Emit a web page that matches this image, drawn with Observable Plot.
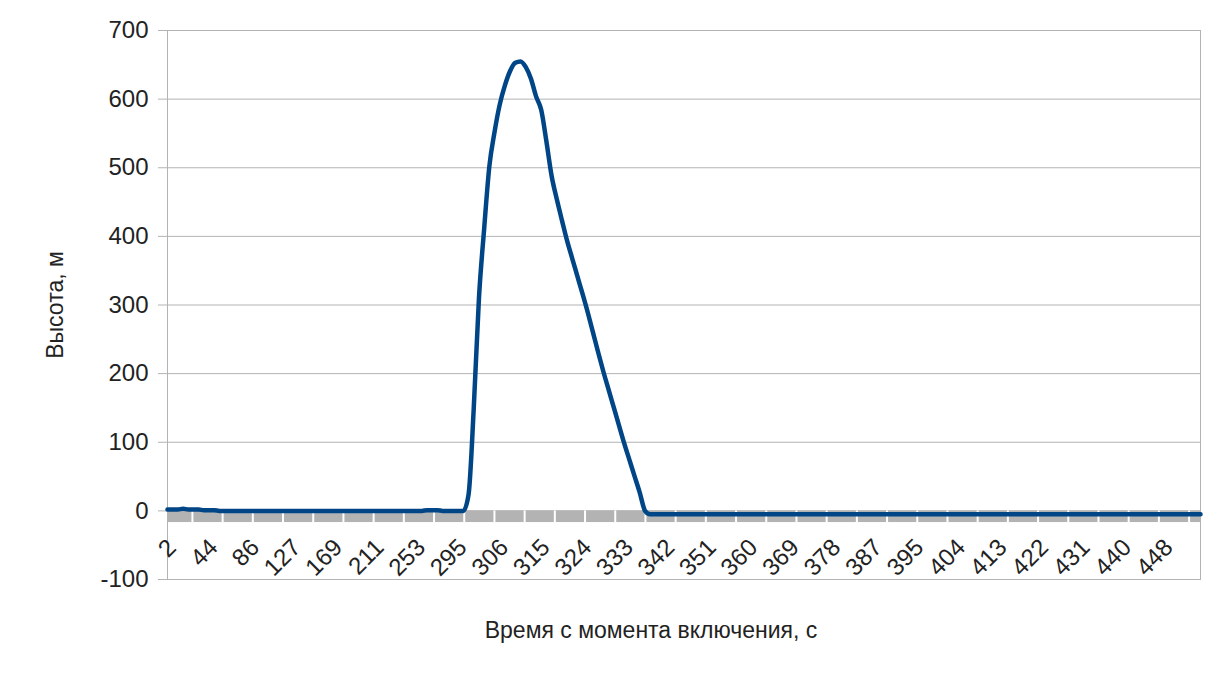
<!DOCTYPE html>
<html>
<head>
<meta charset="utf-8">
<script src="https://cdn.jsdelivr.net/npm/d3@7"></script>
<script src="https://cdn.jsdelivr.net/npm/@observablehq/plot@0.6"></script>
<style>
  html, body { margin: 0; padding: 0; background: #fff; }
  #chart { width: 1224px; height: 678px; }
</style>
</head>
<body>
<div id="chart"></div>
<script>
// Category tick labels (time since power-on, s), one label every 8 samples
const timeLabels = ["2","44","86","127","169","211","253","295","306","315","324","333","342","351","360","369","378","387","395","404","413","422","431","440","448"];
const samplesPerLabel = 8;

// Height, m — samples in category order
const heightsBefore = [
  2,2,2,3,2,2,2,1,1,1,
  0,0,0,0,0,0,0,0,0,0,
  0,0,0,0,0,0,0,0,0,0,
  0,0,0,0,0,0,0,0,0,0,
  0,0,0,0,0,0,0,0,0,0,
  1,1,1,0,0,0,0
];
const heightsFlight = [
  0,24,150,310,411,502,552,592,620,641,
  653,655,647,630,604,584,538,488,454,423,
  393,367,341,315,288,259,230,202,176,150,
  124,98,74,50,26,0
];
const heightsAfter = [
  -5,-5,-5,-5,-5,-5,-5,-5,-5,-5,
  -5,-5,-5,-5,-5,-5,-5,-5,-5,-5,
  -5,-5,-5,-5,-5,-5,-5,-5,-5,-5,
  -5,-5,-5,-5,-5,-5,-5,-5,-5,-5,
  -5,-5,-5,-5,-5,-5,-5,-5,-5,-5,
  -5,-5,-5,-5,-5,-5,-5,-5,-5,-5,
  -5,-5,-5,-5,-5,-5,-5,-5,-5,-5,
  -5,-5,-5,-5,-5,-5,-5,-5,-5,-5,
  -5,-5,-5,-5,-5,-5,-5,-5,-5,-5,
  -5,-5,-5,-5,-5,-5,-5,-5,-5,-5,
  -5,-5,-5,-5,-5,-5,-5
];
const yTicks = [-100, 0, 100, 200, 300, 400, 500, 600, 700];
const yTitle = "Высота, м";
const xTitle = "Время с момента включения, с";

const heights = [...heightsBefore, ...heightsFlight, ...heightsAfter];
const series = heights.map((h, i) => ({i, h}));
const labelData = timeLabels.map((t, k) => ({i: k * samplesPerLabel, t}));
const lastIndex = heights.length - 1;

// axis band decoration (gray strip under zero with white interval marks)
const bandDepth = -17;
const bandStep = samplesPerLabel * 8 / 11;
const bandTicks = d3.range(4.8, lastIndex, bandStep);

const chart = Plot.plot({
  width: 1224,
  height: 678,
  marginLeft: 167,
  marginRight: 24,
  marginTop: 30,
  marginBottom: 99,
  style: {fontFamily: "'Liberation Sans', Arial, sans-serif", fontSize: "24px", background: "#fff", color: "#222"},
  x: {type: "linear", domain: [0, lastIndex], axis: null},
  y: {domain: [-100, 700], axis: null},
  marks: [
    Plot.gridY(yTicks, {stroke: "#b3b3b3", strokeOpacity: 1, strokeWidth: 1}),
    Plot.rect([{a: 0, b: lastIndex}], {x1: "a", x2: "b", y1: 0, y2: bandDepth, fill: "#b3b3b3"}),
    Plot.ruleX(bandTicks, {y1: 0, y2: bandDepth, stroke: "#fff", strokeWidth: 2}),
    Plot.frame({stroke: "#b3b3b3"}),
    Plot.axisY(yTicks, {tickSize: 9, tickPadding: 10, stroke: "#b3b3b3", fill: "#222", fontSize: 24, label: null, tickFormat: d => String(d)}),
    Plot.line(series, {x: "i", y: "h", curve: "monotone-x", stroke: "#004586", strokeWidth: 4.5, strokeLinejoin: "round", strokeLinecap: "round"}),
    Plot.text(labelData, {x: "i", y: 0, text: "t", rotate: -45, textAnchor: "end", lineAnchor: "top", dy: 26, dx: -2, fontSize: 24, fill: "#222"}),
    Plot.text([yTitle], {frameAnchor: "left", text: d => d, rotate: -90, textAnchor: "middle", lineAnchor: "middle", dx: -112, fontSize: 23, fill: "#222"}),
    Plot.text([xTitle], {frameAnchor: "bottom", text: d => d, textAnchor: "middle", lineAnchor: "middle", dy: 51, dx: -33, fontSize: 23, fill: "#222"})
  ]
});
document.getElementById("chart").append(chart);
</script>
</body>
</html>
